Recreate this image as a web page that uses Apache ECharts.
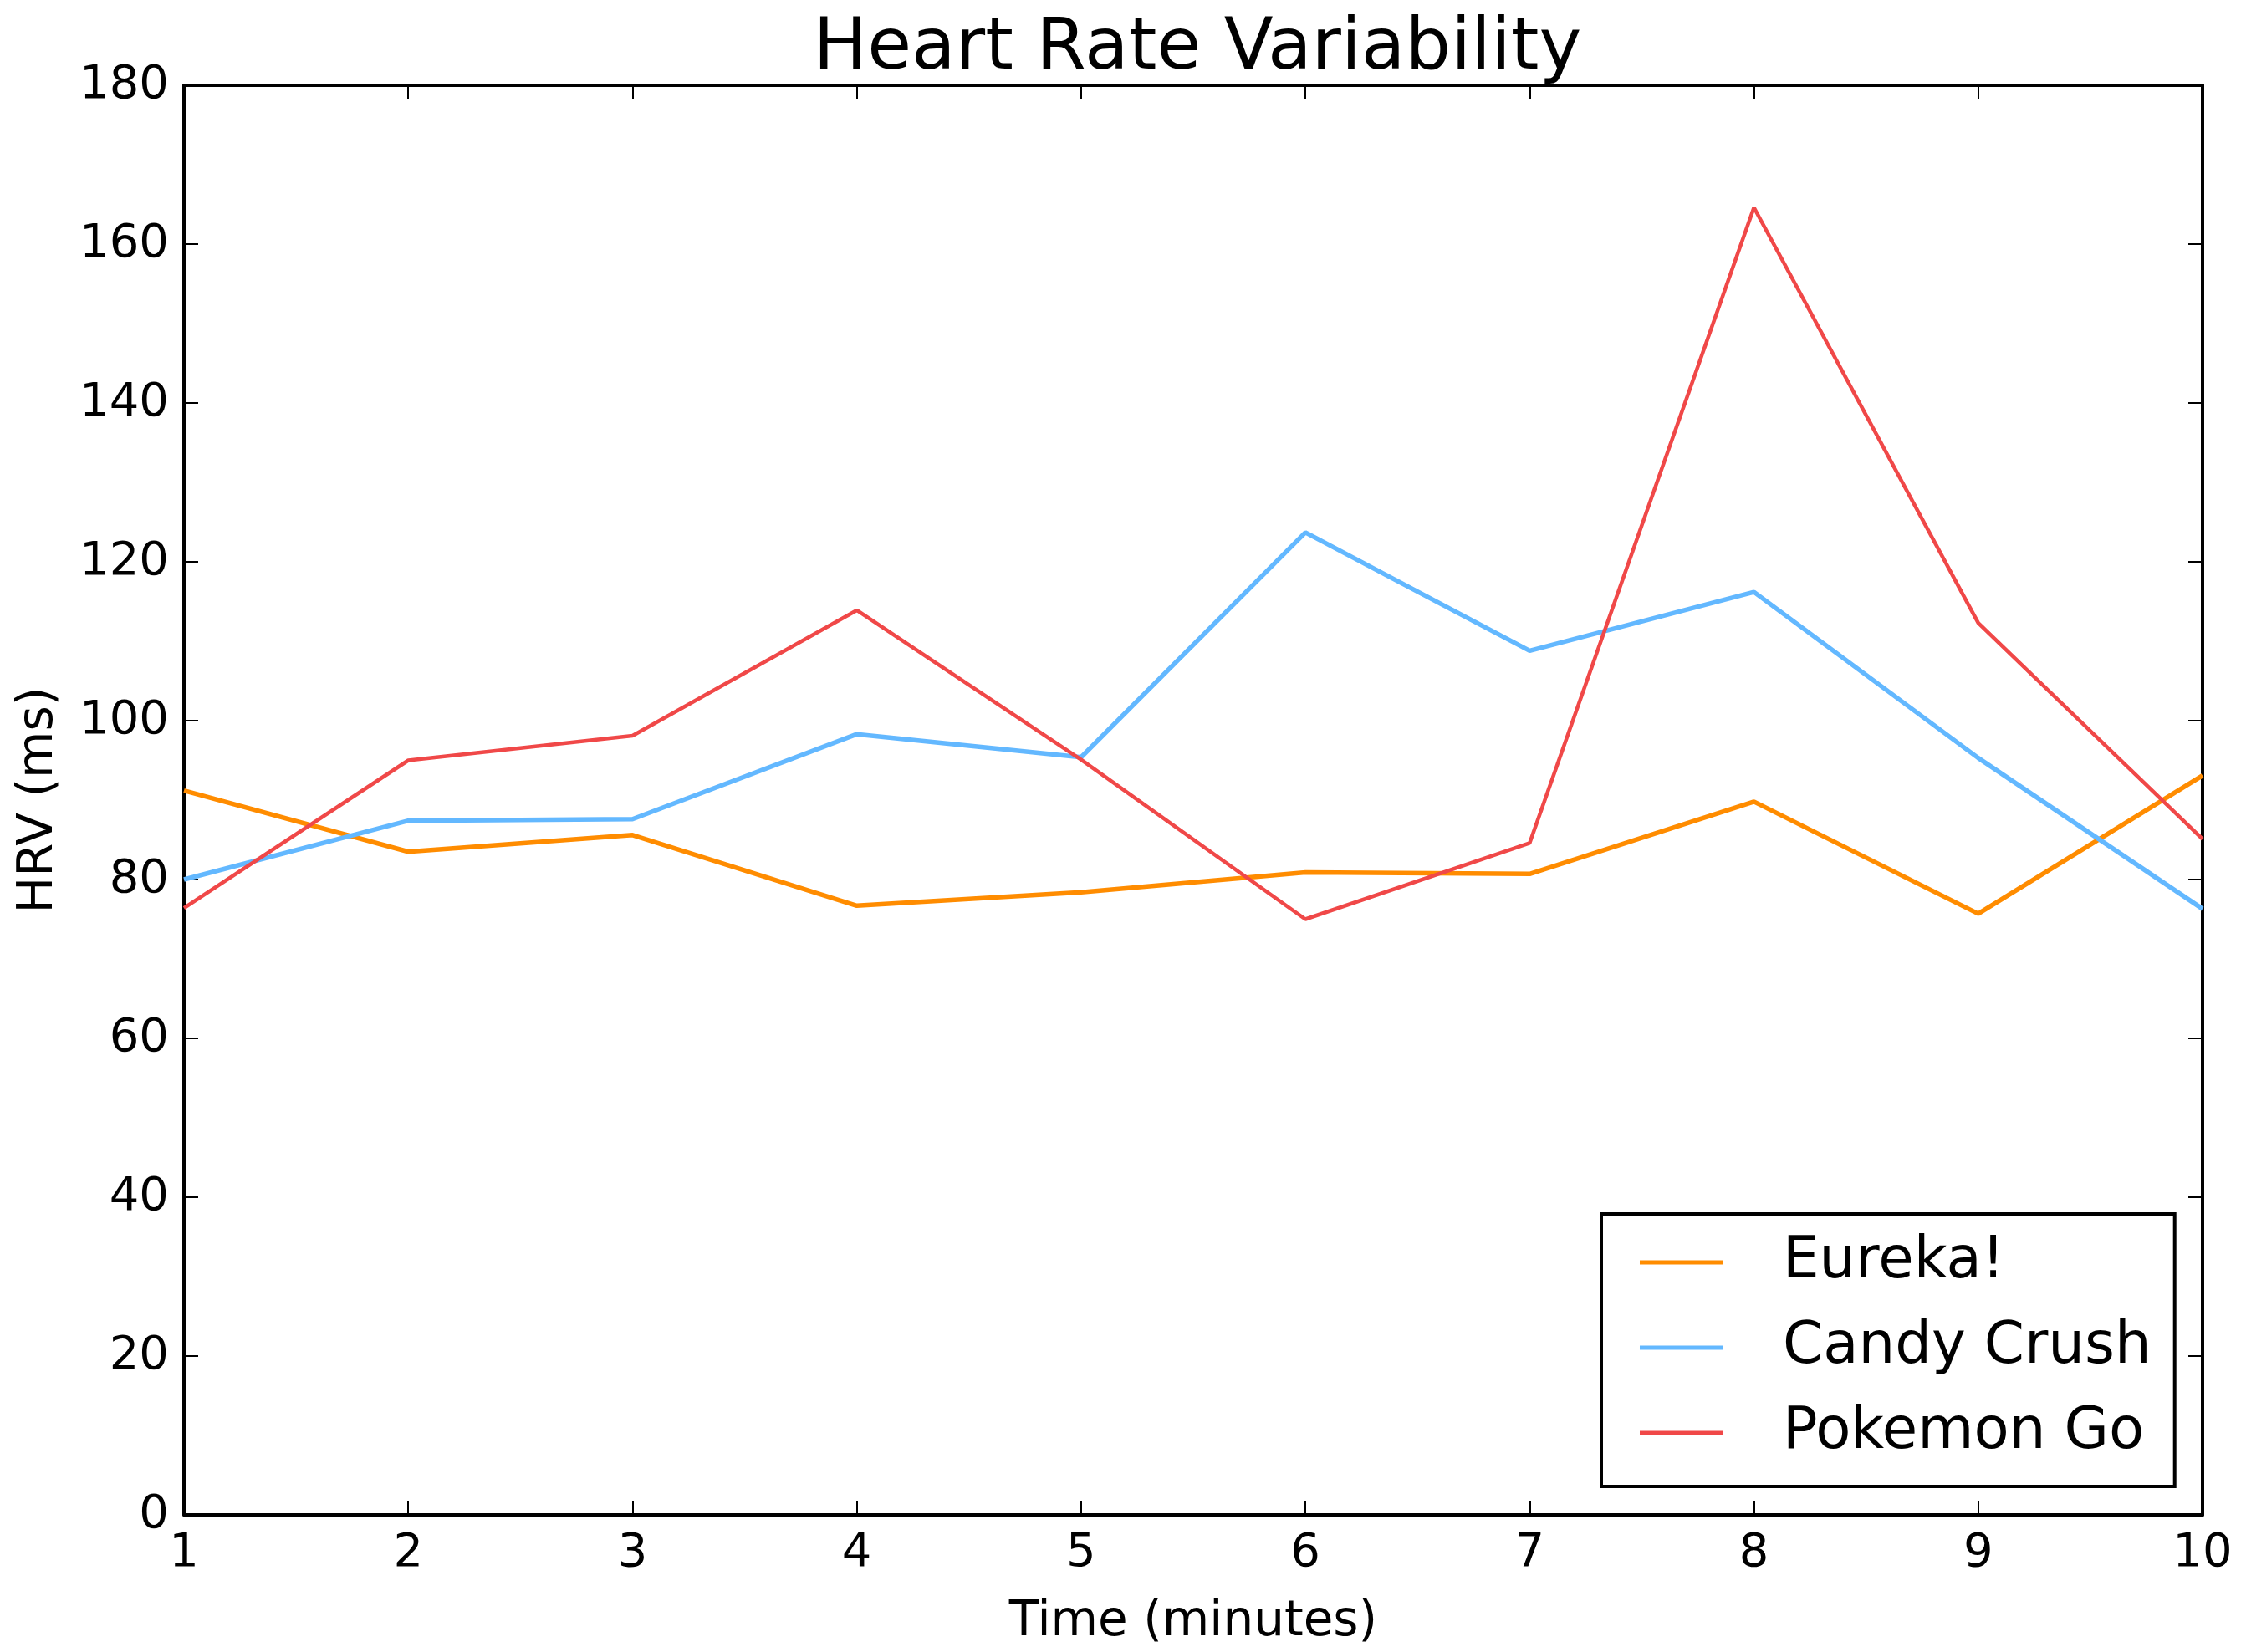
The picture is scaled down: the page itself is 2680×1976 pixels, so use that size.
<!DOCTYPE html>
<html>
<head>
<meta charset="utf-8">
<script src="https://cdn.jsdelivr.net/npm/echarts@6/dist/echarts.min.js"></script>
<style>html,body{margin:0;padding:0;background:#fff}#c{width:2680px;height:1976px}</style>
</head>
<body>
<div id="c"></div>
<script>
const minutes = [1, 2, 3, 4, 5, 6, 7, 8, 9, 10];
const eureka = [91.2, 83.5, 85.6, 76.7, 78.4, 80.9, 80.7, 89.8, 75.7, 93.1];
const candyCrush = [80.0, 87.4, 87.6, 98.3, 95.4, 123.7, 108.8, 116.2, 95.3, 76.3];
const pokemonGo = [76.4, 95.0, 98.1, 113.9, 95.1, 75.0, 84.6, 164.6, 112.3, 85.1];
const seriesNames = ['Eureka!', 'Candy Crush', 'Pokemon Go'];
const seriesColors = ['#ff8c00', '#63b8ff', '#f04848'];

const font = 'DejaVu Sans';
const pair = arr => minutes.map((m, i) => [m, arr[i]]);
const axisCommon = {
  axisLine: { show: true, onZero: false, lineStyle: { color: '#000', width: 4 } },
  axisTick: { show: true, inside: true, length: 17, lineStyle: { color: '#000', width: 2 } },
  splitLine: { show: false }
};

const chart = echarts.init(document.getElementById('c'), null, { renderer: 'canvas' });
chart.setOption({
  animation: false,
  backgroundColor: '#fff',
  title: {
    text: 'Heart Rate Variability',
    left: 1427,
    textAlign: 'center',
    top: 12,
    textStyle: { fontFamily: font, fontSize: 86, fontWeight: 'normal', color: '#000' }
  },
  grid: { left: 220, right: 46, top: 102, bottom: 164, containLabel: false, outerBoundsMode: 'none' },
  legend: {
    orient: 'vertical',
    left: 1915,
    top: 1452,
    data: seriesNames,
    icon: 'rect',
    backgroundColor: '#fff',
    borderColor: '#000',
    borderWidth: 4,
    borderRadius: 0,
    padding: [18, 28, 24, 46],
    itemGap: 22,
    itemWidth: 100,
    itemHeight: 5,
    textStyle: { fontFamily: font, fontSize: 69, color: '#000', lineHeight: 80, padding: [0, 0, 0, 66] }
  },
  xAxis: [
    Object.assign({}, axisCommon, {
      type: 'value', min: 1, max: 10, interval: 1, position: 'bottom',
      name: 'Time (minutes)', nameLocation: 'middle', nameGap: 100,
      nameTextStyle: { fontFamily: font, fontSize: 58, color: '#000' },
      axisLabel: { fontFamily: font, fontSize: 56, color: '#000', margin: 18 }
    }),
    Object.assign({}, axisCommon, {
      type: 'value', min: 1, max: 10, interval: 1, position: 'top',
      axisLabel: { show: false }
    })
  ],
  yAxis: [
    Object.assign({}, axisCommon, {
      type: 'value', min: 0, max: 180, interval: 20, position: 'left',
      name: 'HRV (ms)', nameLocation: 'middle', nameGap: 144, nameRotate: 90,
      nameTextStyle: { fontFamily: font, fontSize: 58, color: '#000' },
      axisLabel: { fontFamily: font, fontSize: 56, color: '#000', margin: 18 }
    }),
    Object.assign({}, axisCommon, {
      type: 'value', min: 0, max: 180, interval: 20, position: 'right',
      axisLabel: { show: false }
    })
  ],
  series: [
    { name: seriesNames[0], type: 'line', data: pair(eureka), symbol: 'none', color: seriesColors[0], lineStyle: { width: 5.5, color: seriesColors[0] }, z: 3 },
    { name: seriesNames[1], type: 'line', data: pair(candyCrush), symbol: 'none', color: seriesColors[1], lineStyle: { width: 5.5, color: seriesColors[1] }, z: 4 },
    { name: seriesNames[2], type: 'line', data: pair(pokemonGo), symbol: 'none', color: seriesColors[2], lineStyle: { width: 4.5, color: seriesColors[2] }, z: 5 }
  ]
});
</script>
</body>
</html>
